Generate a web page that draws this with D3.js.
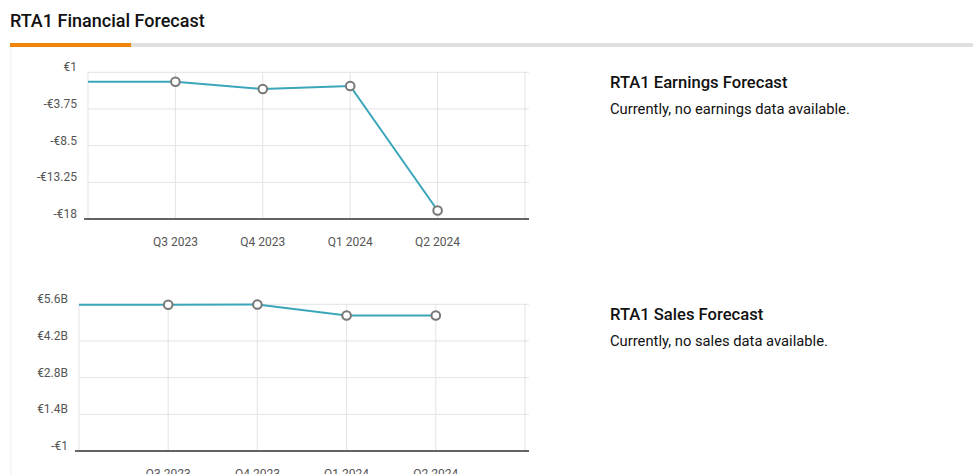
<!DOCTYPE html>
<html>
<head>
<meta charset="utf-8">
<script src="https://cdn.jsdelivr.net/npm/d3@7"></script>
<style>
  html, body { margin: 0; padding: 0; background: #fff; }
  svg { display: block; font-family: Roboto, "Noto Sans", sans-serif; }
</style>
</head>
<body>
<svg id="chart" width="973" height="474"></svg>
<script>
// ---- data ----
const quarters = ["Q3 2023", "Q4 2023", "Q1 2024", "Q2 2024"];
const earningsLead = -0.22;           // value at left edge of plot
const earningsValues = [-0.22, -1.16, -0.78, -16.9];
const earningsTicks = [1, -3.75, -8.5, -13.25, -18];
const earningsTickLabels = ["€1", "-€3.75", "-€8.5", "-€13.25", "-€18"];

const salesLead = 5.58;               // billions, value at left edge
const salesValues = [5.58, 5.59, 5.17, 5.17];
const salesTicks = [0, 1.4, 2.8, 4.2, 5.6];
const salesTickLabels = ["-€1", "€1.4B", "€2.8B", "€4.2B", "€5.6B"];

const svg = d3.select("#chart");

// header
svg.append("text").attr("x", 10).attr("y", 27)
  .attr("font-size", 18).attr("font-weight", 500).attr("fill", "#111")
  .text("RTA1 Financial Forecast");
svg.append("rect").attr("x", 10).attr("y", 43).attr("width", 963).attr("height", 4).attr("fill", "#e0e0e0");
svg.append("rect").attr("x", 10).attr("y", 43).attr("width", 121).attr("height", 4).attr("fill", "#f0850c");
svg.append("rect").attr("x", 10).attr("y", 47).attr("width", 1.5).attr("height", 427).attr("fill", "#f3f3f3");

function drawChart(cfg) {
  const g = svg.append("g");
  const x = d3.scaleLinear().domain([-1, 4]).range([cfg.left, cfg.right]);
  const y = d3.scaleLinear().domain(cfg.domain).range([cfg.bottom, cfg.top]);

  // horizontal grid
  g.selectAll(".hg").data(cfg.ticks).enter()
    .append("line")
    .attr("x1", cfg.left).attr("x2", cfg.right + 4)
    .attr("y1", d => y(d)).attr("y2", d => y(d))
    .attr("stroke", "#e3e3e3").attr("stroke-width", 1);
  // vertical grid
  const vgrid = d3.range(-1, 5);
  g.selectAll(".vg").data(vgrid).enter()
    .append("line")
    .attr("x1", d => x(d)).attr("x2", d => x(d))
    .attr("y1", y(cfg.domain[1])).attr("y2", cfg.bottom)
    .attr("stroke", "#e3e3e3").attr("stroke-width", 1);

  // y tick labels
  g.selectAll(".yl").data(cfg.ticks).enter()
    .append("text")
    .attr("x", cfg.labelX).attr("y", d => y(d) - 4)
    .attr("text-anchor", "end").attr("dominant-baseline", "middle")
    .attr("font-size", 12).attr("fill", "#555")
    .text((d, i) => cfg.tickLabels[i]);

  // x axis line
  g.append("line")
    .attr("x1", cfg.left - 4).attr("x2", cfg.right + 4)
    .attr("y1", cfg.bottom).attr("y2", cfg.bottom)
    .attr("stroke", "#333").attr("stroke-width", 1.5);

  // x labels
  g.selectAll(".xl").data(quarters).enter()
    .append("text")
    .attr("x", (d, i) => x(i)).attr("y", cfg.bottom + 24)
    .attr("text-anchor", "middle").attr("dominant-baseline", "middle")
    .attr("font-size", 12).attr("fill", "#555")
    .text(d => d);

  // line
  const pts = [[-1, cfg.lead]].concat(cfg.values.map((v, i) => [i, v]));
  g.append("path")
    .attr("d", d3.line().x(d => x(d[0])).y(d => y(d[1]))(pts))
    .attr("fill", "none").attr("stroke", "#3aa6b9").attr("stroke-width", 2);

  g.selectAll(".pt").data(cfg.values).enter()
    .append("circle")
    .attr("cx", (d, i) => x(i)).attr("cy", d => y(d)).attr("r", 4.3)
    .attr("fill", "#fff").attr("stroke", "#777").attr("stroke-width", 2);

  // side text
  svg.append("text").attr("x", 610).attr("y", cfg.titleY)
    .attr("font-size", 16.6).attr("font-weight", 500).attr("fill", "#111")
    .text(cfg.title);
  svg.append("text").attr("x", 610).attr("y", cfg.titleY + 26)
    .attr("font-size", 14.75).attr("fill", "#111")
    .text(cfg.note);
}

drawChart({
  left: 88, right: 525, top: 72.3, bottom: 219,
  domain: [-18, 1], ticks: earningsTicks, tickLabels: earningsTickLabels,
  values: earningsValues, lead: earningsLead, labelX: 77,
  title: "RTA1 Earnings Forecast", note: "Currently, no earnings data available.", titleY: 88
});
drawChart({
  left: 79, right: 525, top: 304.3, bottom: 451,
  domain: [0, 5.6], ticks: salesTicks, tickLabels: salesTickLabels,
  values: salesValues, lead: salesLead, labelX: 68,
  title: "RTA1 Sales Forecast", note: "Currently, no sales data available.", titleY: 320
});
</script>
</body>
</html>
